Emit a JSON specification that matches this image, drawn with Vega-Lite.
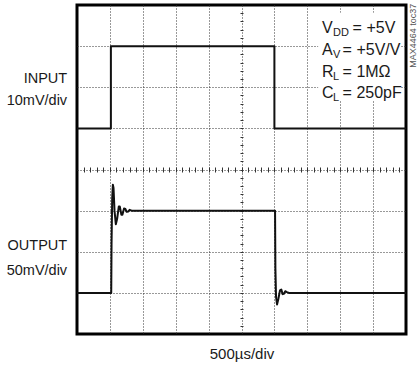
{
  "$schema": "https://vega.github.io/schema/vega-lite/v6.json",
  "width": 329,
  "height": 329,
  "autosize": {"type": "none"},
  "padding": {"left": 77, "top": 5, "right": 12, "bottom": 33},
  "background": "white",
  "config": {
    "view": {"stroke": "#000", "strokeWidth": 3},
    "font": "Liberation Sans",
    "text": {"font": "Liberation Sans", "color": "#1a1a1a"}
  },
  "datasets": {
    "trace": [
      {"series": "input", "i": 0, "t": 0, "v": 5},
      {"series": "input", "i": 1, "t": 1.03, "v": 5},
      {"series": "input", "i": 2, "t": 1.03, "v": 7},
      {"series": "input", "i": 3, "t": 6.0, "v": 7},
      {"series": "input", "i": 4, "t": 6.0, "v": 5},
      {"series": "input", "i": 5, "t": 10, "v": 5},
      {"series": "output", "i": 0, "t": 0, "v": 1.0},
      {"series": "output", "i": 1, "t": 1.04, "v": 1.0},
      {"series": "output", "i": 2, "t": 1.05, "v": 2.2},
      {"series": "output", "i": 3, "t": 1.07, "v": 3.3},
      {"series": "output", "i": 4, "t": 1.09, "v": 3.63},
      {"series": "output", "i": 5, "t": 1.11, "v": 3.55},
      {"series": "output", "i": 6, "t": 1.14, "v": 3.0},
      {"series": "output", "i": 7, "t": 1.18, "v": 2.67},
      {"series": "output", "i": 8, "t": 1.22, "v": 2.8},
      {"series": "output", "i": 9, "t": 1.27, "v": 3.1},
      {"series": "output", "i": 10, "t": 1.3, "v": 3.1},
      {"series": "output", "i": 11, "t": 1.35, "v": 2.9},
      {"series": "output", "i": 12, "t": 1.38, "v": 2.9},
      {"series": "output", "i": 13, "t": 1.43, "v": 3.05},
      {"series": "output", "i": 14, "t": 1.47, "v": 3.04},
      {"series": "output", "i": 15, "t": 1.51, "v": 2.97},
      {"series": "output", "i": 16, "t": 1.56, "v": 2.98},
      {"series": "output", "i": 17, "t": 1.6, "v": 3.02},
      {"series": "output", "i": 18, "t": 1.66, "v": 3.0},
      {"series": "output", "i": 19, "t": 6.02, "v": 3.0},
      {"series": "output", "i": 20, "t": 6.03, "v": 1.6},
      {"series": "output", "i": 21, "t": 6.05, "v": 0.9},
      {"series": "output", "i": 22, "t": 6.08, "v": 0.72},
      {"series": "output", "i": 23, "t": 6.12, "v": 0.85},
      {"series": "output", "i": 24, "t": 6.17, "v": 1.06},
      {"series": "output", "i": 25, "t": 6.21, "v": 1.08},
      {"series": "output", "i": 26, "t": 6.25, "v": 0.97},
      {"series": "output", "i": 27, "t": 6.29, "v": 0.98},
      {"series": "output", "i": 28, "t": 6.33, "v": 1.04},
      {"series": "output", "i": 29, "t": 6.38, "v": 1.02},
      {"series": "output", "i": 30, "t": 6.44, "v": 1.0},
      {"series": "output", "i": 31, "t": 10, "v": 1.0}
    ],
    "box": [{"x1": 7.33, "x2": 9.85, "y1": 5.67, "y2": 7.81}],
    "notes": [
      {"main": "V", "sub": "DD", "rest": "= +5V", "ly": 7.32},
      {"main": "A", "sub": "V", "rest": "= +5V/V", "ly": 6.79},
      {"main": "R", "sub": "L", "rest": "= 1MΩ", "ly": 6.25},
      {"main": "C", "sub": "L", "rest": "= 250pF", "ly": 5.74}
    ],
    "labels": [
      {"lab": "INPUT", "ly": 6.11},
      {"lab": "10mV/div", "ly": 5.57},
      {"lab": "OUTPUT", "ly": 2.04},
      {"lab": "50mV/div", "ly": 1.44}
    ],
    "tag": [{"txt": "MAX4464 toc37", "tx": 10.21, "ty": 7.25}]
  },
  "resolve": {"axis": {"x": "independent", "y": "independent"}},
  "layer": [
    {
      "data": {"name": "box"},
      "mark": {"type": "rect", "fill": "white", "stroke": null},
      "encoding": {
        "x": {"field": "x1", "type": "quantitative", "scale": {"domain": [0, 10], "nice": false, "zero": false},
          "axis": {"orient": "bottom", "offset": -167, "values": [0.2,0.4,0.6,0.8,1,1.2,1.4,1.6,1.8,2,2.2,2.4,2.6,2.8,3,3.2,3.4,3.6,3.8,4,4.2,4.4,4.6,4.8,5,5.2,5.4,5.6,5.8,6,6.2,6.4,6.6,6.8,7,7.2,7.4,7.6,7.8,8,8.2,8.4,8.6,8.8,9,9.2,9.4,9.6,9.8],
            "ticks": true, "tickSize": 5, "tickColor": "#333", "tickWidth": 1, "labels": false, "domain": false, "grid": false, "title": null}},
        "x2": {"field": "x2"},
        "y": {"field": "y1", "type": "quantitative", "scale": {"domain": [0, 8], "nice": false, "zero": false},
          "axis": {"orient": "left", "offset": -166, "values": [0.2,0.4,0.6,0.8,1,1.2,1.4,1.6,1.8,2,2.2,2.4,2.6,2.8,3,3.2,3.4,3.6,3.8,4,4.2,4.4,4.6,4.8,5,5.2,5.4,5.6,5.8,6,6.2,6.4,6.6,6.8,7,7.2,7.4,7.6,7.8],
            "ticks": true, "tickSize": 3, "tickColor": "#333", "tickWidth": 1, "labels": false, "domain": false, "grid": false, "title": null}},
        "y2": {"field": "y2"}
      }
    },
    {
      "data": {"name": "trace"},
      "mark": {"type": "line", "color": "#111", "strokeWidth": 2, "strokeJoin": "round"},
      "encoding": {
        "x": {"field": "t", "type": "quantitative", "scale": {"domain": [0, 10], "nice": false, "zero": false},
          "axis": {"orient": "bottom", "values": [1,2,3,4,5,6,7,8,9], "grid": true, "gridDash": [1, 2], "gridColor": "#333", "gridWidth": 1,
            "ticks": false, "labels": false, "domain": false, "title": "500µs/div", "titleFont": "Liberation Sans", "titleFontSize": 15, "titleFontWeight": "normal", "titleColor": "#1a1a1a", "titlePadding": 12}},
        "y": {"field": "v", "type": "quantitative", "scale": {"domain": [0, 8], "nice": false, "zero": false},
          "axis": {"orient": "left", "values": [1,2,3,4,5,6,7], "grid": true, "gridDash": [1, 2], "gridColor": "#333", "gridWidth": 1,
            "ticks": false, "labels": false, "domain": false, "title": null}},
        "detail": {"field": "series"},
        "order": {"field": "i", "type": "quantitative"}
      }
    },
    {
      "data": {"name": "notes"},
      "mark": {"type": "text", "align": "left", "baseline": "alphabetic", "fontSize": 16},
      "encoding": {
        "x": {"datum": 7.45, "type": "quantitative", "scale": {"domain": [0, 10], "nice": false, "zero": false}, "axis": null},
        "y": {"field": "ly", "type": "quantitative", "scale": {"domain": [0, 8], "nice": false, "zero": false}, "axis": null},
        "text": {"field": "main"}
      }
    },
    {
      "data": {"name": "notes"},
      "mark": {"type": "text", "align": "left", "baseline": "alphabetic", "fontSize": 11, "dx": 11, "dy": 3},
      "encoding": {
        "x": {"datum": 7.45, "type": "quantitative", "scale": {"domain": [0, 10], "nice": false, "zero": false}, "axis": null},
        "y": {"field": "ly", "type": "quantitative", "scale": {"domain": [0, 8], "nice": false, "zero": false}, "axis": null},
        "text": {"field": "sub"}
      }
    },
    {
      "data": {"name": "notes"},
      "transform": [{"filter": "length(datum.sub) > 1"}],
      "mark": {"type": "text", "align": "left", "baseline": "alphabetic", "fontSize": 16, "dx": 30.5},
      "encoding": {
        "x": {"datum": 7.45, "type": "quantitative", "scale": {"domain": [0, 10], "nice": false, "zero": false}, "axis": null},
        "y": {"field": "ly", "type": "quantitative", "scale": {"domain": [0, 8], "nice": false, "zero": false}, "axis": null},
        "text": {"field": "rest"}
      }
    },
    {
      "data": {"name": "notes"},
      "transform": [{"filter": "length(datum.sub) == 1"}],
      "mark": {"type": "text", "align": "left", "baseline": "alphabetic", "fontSize": 16, "dx": 20.5},
      "encoding": {
        "x": {"datum": 7.45, "type": "quantitative", "scale": {"domain": [0, 10], "nice": false, "zero": false}, "axis": null},
        "y": {"field": "ly", "type": "quantitative", "scale": {"domain": [0, 8], "nice": false, "zero": false}, "axis": null},
        "text": {"field": "rest"}
      }
    },
    {
      "data": {"name": "labels"},
      "mark": {"type": "text", "align": "right", "baseline": "alphabetic", "fontSize": 14.5},
      "encoding": {
        "x": {"datum": -0.3, "type": "quantitative", "scale": {"domain": [0, 10], "nice": false, "zero": false}, "axis": null},
        "y": {"field": "ly", "type": "quantitative", "scale": {"domain": [0, 8], "nice": false, "zero": false}, "axis": null},
        "text": {"field": "lab"}
      }
    },
    {
      "data": {"name": "tag"},
      "mark": {"type": "text", "align": "center", "baseline": "middle", "fontSize": 9, "angle": 270, "color": "#555"},
      "encoding": {
        "x": {"field": "tx", "type": "quantitative", "scale": {"domain": [0, 10], "nice": false, "zero": false}, "axis": null},
        "y": {"field": "ty", "type": "quantitative", "scale": {"domain": [0, 8], "nice": false, "zero": false}, "axis": null},
        "text": {"field": "txt"}
      }
    }
  ]
}
